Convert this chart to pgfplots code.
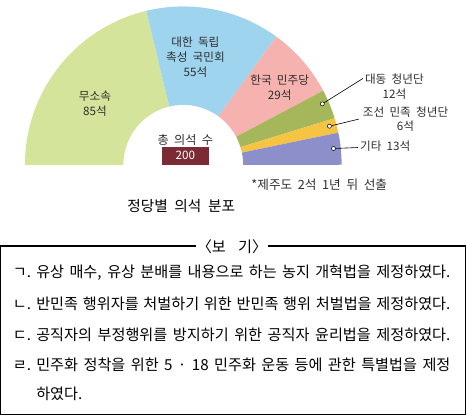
\documentclass[border=0pt]{standalone}
\usepackage{pgfplots}
\pgfplotsset{compat=1.18}
\usepackage{pgfplotstable}
\usepackage{fontspec}
\setmainfont{Noto Sans CJK KR}[WordSpace=2]
\newfontfamily\bogifont{Noto Sans CJK KR}[WordSpace=1.2]
\definecolor{cA}{HTML}{D5E49B}
\definecolor{cB}{HTML}{9FD4EF}
\definecolor{cC}{HTML}{F5B2AE}
\definecolor{cD}{HTML}{A5B75A}
\definecolor{cE}{HTML}{F6C443}
\definecolor{cF}{HTML}{8D8FCB}
\definecolor{boxred}{HTML}{7B2B33}
\definecolor{txt}{HTML}{2E2E2E}
\pgfplotstableread{
seats
85
55
29
12
6
13
}\seattable
\pgfplotstablegetelem{0}{seats}\of\seattable\let\sA\pgfplotsretval
\pgfplotstablegetelem{1}{seats}\of\seattable\let\sB\pgfplotsretval
\pgfplotstablegetelem{2}{seats}\of\seattable\let\sC\pgfplotsretval
\pgfplotstablegetelem{3}{seats}\of\seattable\let\sD\pgfplotsretval
\pgfplotstablegetelem{4}{seats}\of\seattable\let\sE\pgfplotsretval
\pgfplotstablegetelem{5}{seats}\of\seattable\let\sF\pgfplotsretval
\pgfmathsetmacro\tot{\sA+\sB+\sC+\sD+\sE+\sF}
\pgfmathsetmacro\bA{180-\sA/\tot*180}
\pgfmathsetmacro\bB{\bA-\sB/\tot*180}
\pgfmathsetmacro\bC{\bB-\sC/\tot*180}
\pgfmathsetmacro\bD{\bC-\sD/\tot*180}
\pgfmathsetmacro\bE{\bD-\sE/\tot*180}
\pgfmathsetmacro\bF{\bE-\sF/\tot*180}
\newcommand\sector[3]{%
  \fill[#3] (axis cs:184,157) ++(#1:156bp) arc[start angle=#1,end angle=#2,radius=156bp]
    -- ++(#2:-97bp) arc[start angle=#2,end angle=#1,radius=59bp] -- cycle;}
\newcommand\lab{\fontsize{11.5}{14.5}\selectfont}
\newcommand\bogi{\bogifont\fontsize{15}{17}\selectfont}
\begin{document}
\begin{tikzpicture}
\begin{axis}[scale only axis, width=466bp, height=407bp,
  xmin=0, xmax=466, ymin=0, ymax=407, y dir=reverse, hide axis, clip=false]
\sector{180}{\bA}{cA}
\sector{\bA}{\bB}{cB}
\sector{\bB}{\bC}{cC}
\sector{\bC}{\bD}{cD}
\sector{\bD}{\bE}{cE}
\sector{\bE}{\bF}{cF}
% slice labels
\node[font=\lab, text=txt, align=center] at (axis cs:97,97) {무소속\\85석};
\node[font=\lab, text=txt, align=center] at (axis cs:196,51) {대한 독립\\촉성 국민회\\55석};
\node[font=\lab, text=txt, align=center] at (axis cs:279,81) {한국 민주당\\29석};
% leader lines
\draw[black, line width=0.6bp] (axis cs:321,97) -- (axis cs:361,72);
\draw[black, line width=0.6bp] (axis cs:328,119) -- (axis cs:357,112);
\draw[black, line width=0.6bp] (axis cs:332,141) -- (axis cs:356,140);
\filldraw[fill=white, draw=black, line width=0.5bp] (axis cs:321,97) circle[radius=2bp];
\filldraw[fill=white, draw=black, line width=0.5bp] (axis cs:328,119) circle[radius=2bp];
\filldraw[fill=white, draw=black, line width=0.5bp] (axis cs:332,141) circle[radius=2bp];
\node[font=\lab, text=txt, align=center] at (axis cs:392,80) {대동 청년단\\12석};
\node[font=\lab, text=txt, align=center] at (axis cs:403,112) {조선 민족 청년단\\6석};
\node[font=\lab, text=txt, anchor=west, inner sep=1bp] at (axis cs:357,139) {기타 13석};
% centre
\node[font=\fontsize{12}{14}\selectfont, text=txt] at (axis cs:186,133) {총 의석 수};
\fill[boxred] (axis cs:163,139) rectangle (axis cs:209,157);
\node[font=\fontsize{11.5}{13}\selectfont, text=white] at (axis cs:186,148) {200};
\node[font=\fontsize{12.5}{14}\selectfont, text=txt] at (axis cs:318,177) {*제주도 2석 1년 뒤 선출};
\node[font=\fontsize{14.5}{16}\selectfont, text=black] at (axis cs:182,198) {정당별 의석 분포};
% bogi box
\draw[black, line width=1.1bp] (axis cs:4,237) rectangle (axis cs:462,403);
\node[font=\bogi, fill=white, inner sep=1bp] at (axis cs:232,238) {〈보\hspace{0.8em}기〉};
\node[font=\bogi, anchor=base west, inner sep=0] at (axis cs:16,268) {ㄱ.};
\node[font=\bogi, anchor=base west, inner sep=0] at (axis cs:16,300) {ㄴ.};
\node[font=\bogi, anchor=base west, inner sep=0] at (axis cs:16,330) {ㄷ.};
\node[font=\bogi, anchor=base west, inner sep=0] at (axis cs:16,360) {ㄹ.};
\node[font=\bogi, anchor=base west, inner sep=0] at (axis cs:39,268) {\makebox[408bp][s]{유상 매수, 유상 분배를 내용으로 하는 농지 개혁법을 제정하였다.}};
\node[font=\bogi, anchor=base west, inner sep=0] at (axis cs:39,300) {\makebox[408bp][s]{반민족 행위자를 처벌하기 위한 반민족 행위 처벌법을 제정하였다.}};
\node[font=\bogi, anchor=base west, inner sep=0] at (axis cs:39,330) {\makebox[408bp][s]{공직자의 부정행위를 방지하기 위한 공직자 윤리법을 제정하였다.}};
\node[font=\bogi, anchor=base west, inner sep=0] at (axis cs:39,360) {\makebox[408bp][s]{민주화 정착을 위한 5 · 18 민주화 운동 등에 관한 특별법을 제정}};
\node[font=\bogi, anchor=base west, inner sep=0] at (axis cs:39,388) {하였다.};
\end{axis}
\end{tikzpicture}
\end{document}
